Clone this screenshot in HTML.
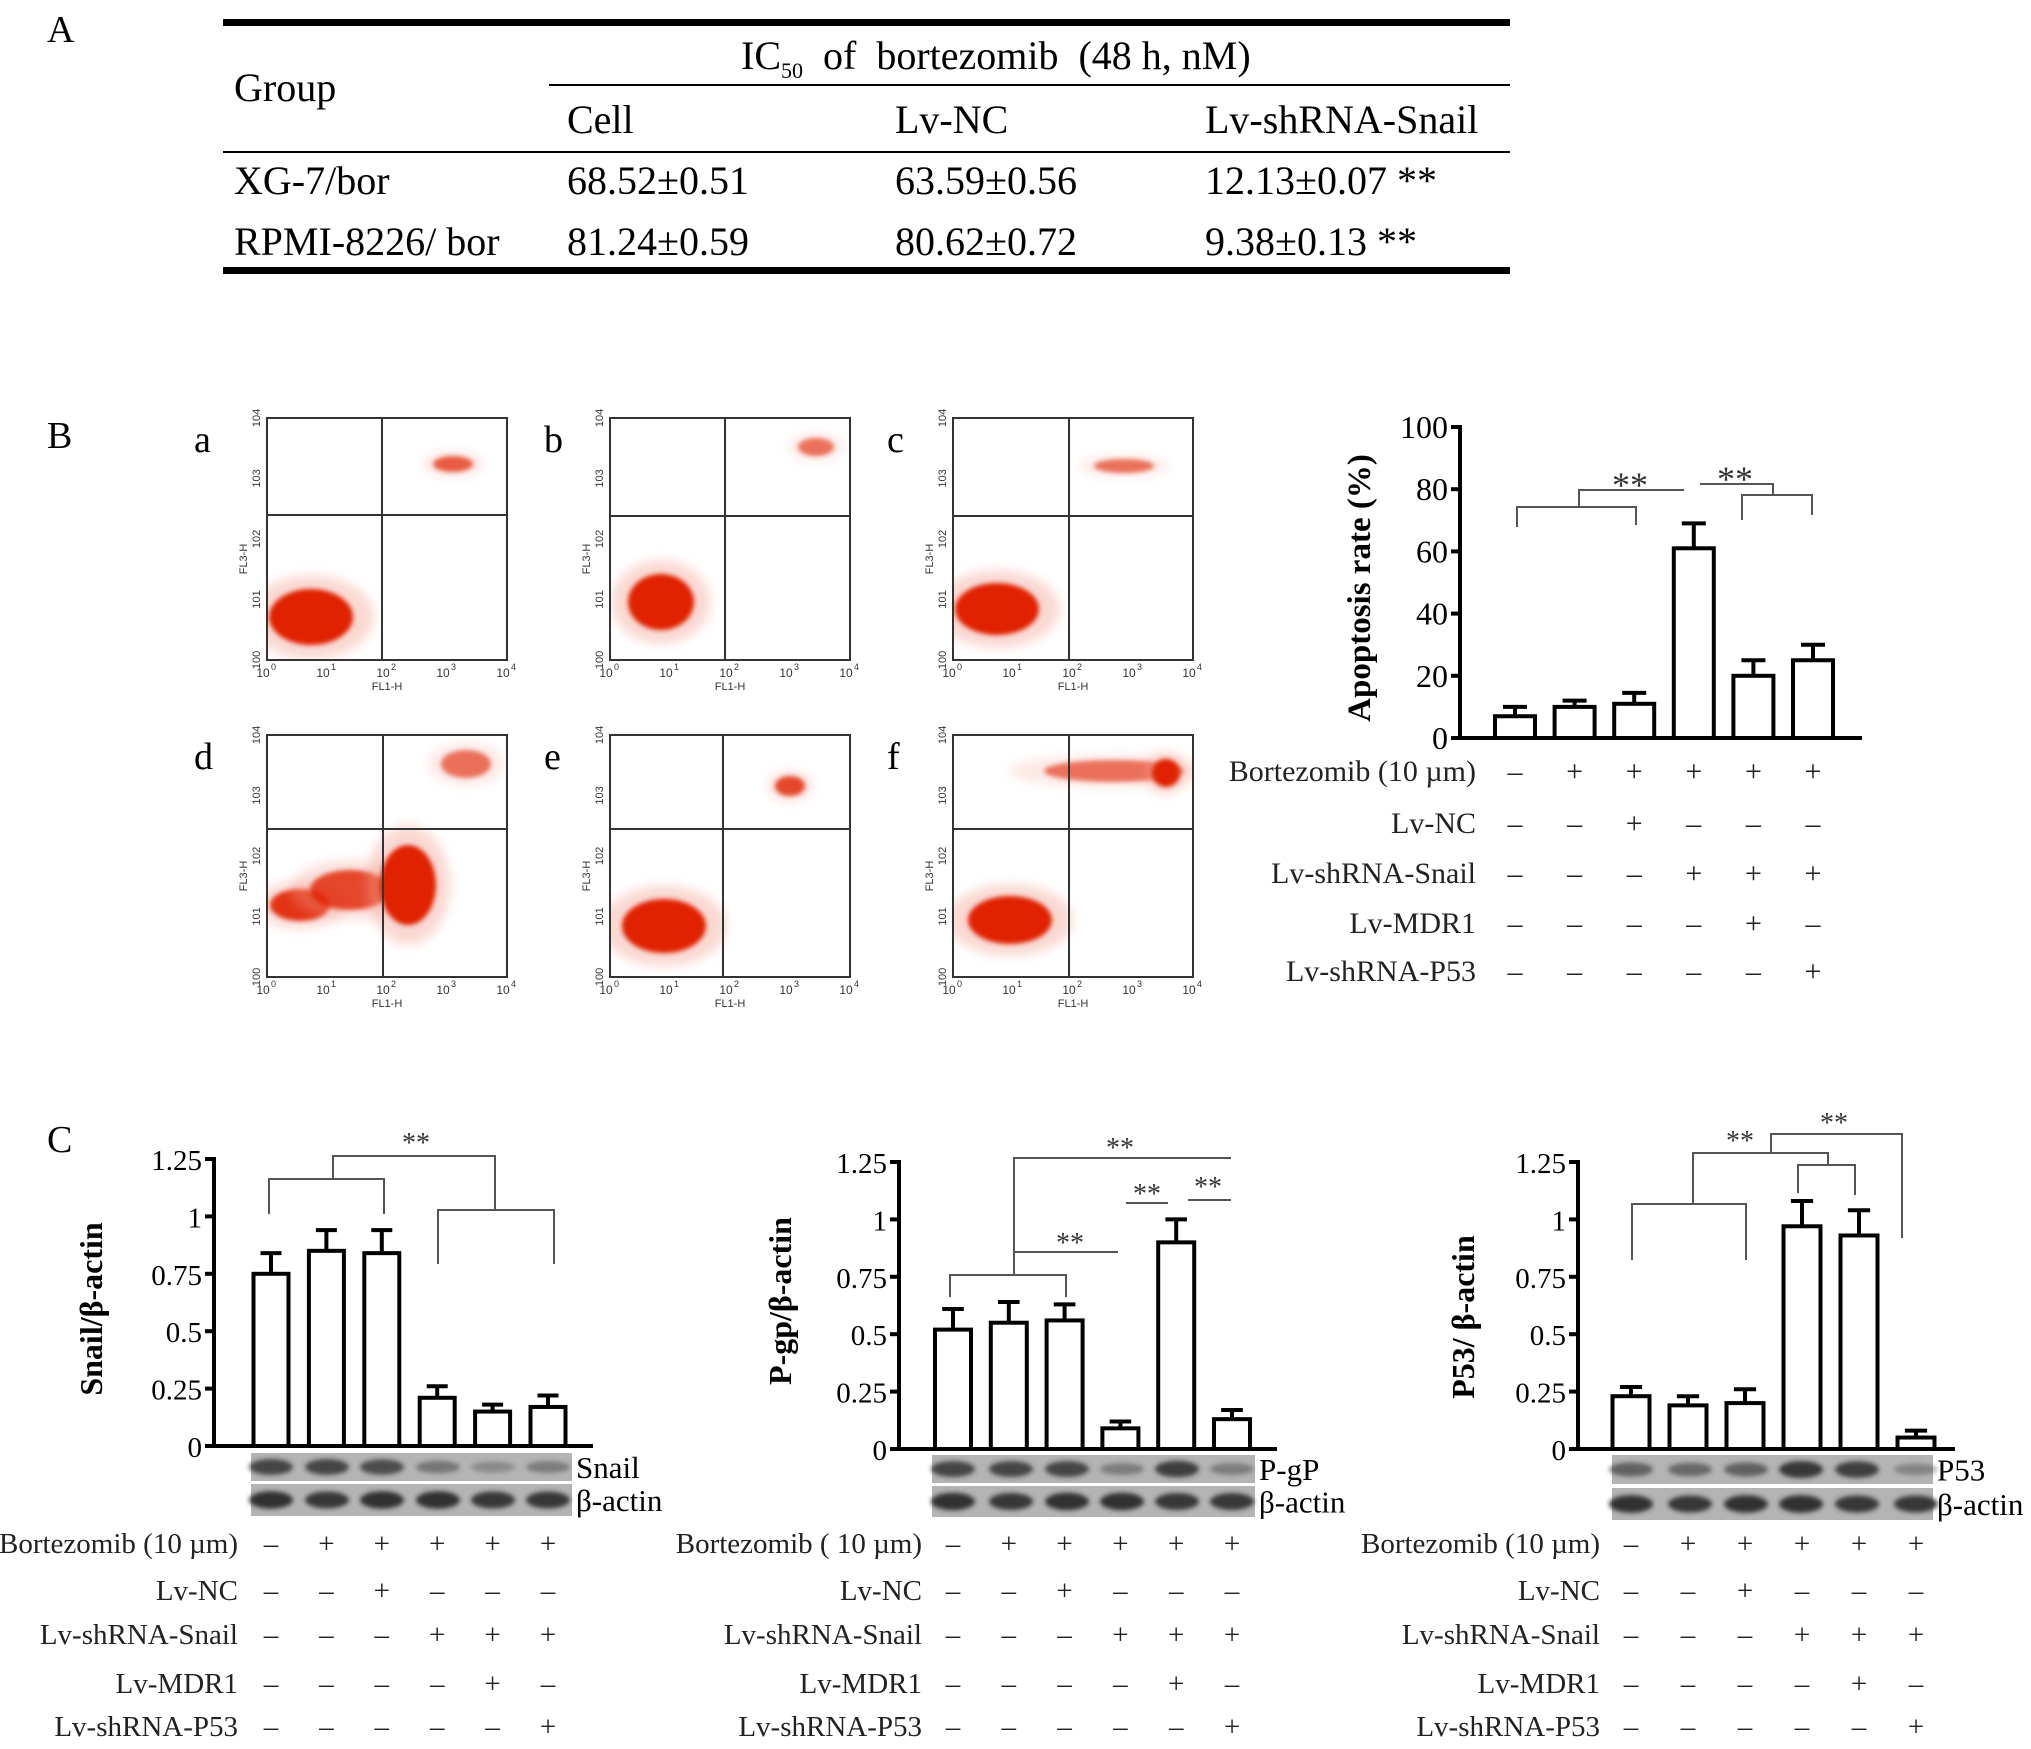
<!DOCTYPE html>
<html><head><meta charset="utf-8">
<style>
html,body{margin:0;padding:0;background:#fff;}
svg{display:block;font-family:"Liberation Serif",serif;}
</style></head>
<body>
<svg id="fig" width="2031" height="1749" viewBox="0 0 2031 1749" xmlns="http://www.w3.org/2000/svg">
<defs>
<filter id="blur4" x="-50%" y="-50%" width="200%" height="200%"><feGaussianBlur stdDeviation="5"/></filter>
<filter id="blur2" x="-50%" y="-50%" width="200%" height="200%"><feGaussianBlur stdDeviation="2.5"/></filter>
</defs>
<g>
<text x="47" y="42" font-size="38">A</text>
<rect x="223" y="19" width="1287" height="7" fill="#000"/>
<text x="741" y="69" font-size="40">IC<tspan font-size="22" dy="9">50</tspan><tspan dy="-9" xml:space="preserve">  of  bortezomib  (48 h, nM)</tspan></text>
<rect x="549" y="84" width="961" height="2" fill="#000"/>
<text x="234" y="101" font-size="40">Group</text>
<text x="567" y="133" font-size="40">Cell</text>
<text x="895" y="133" font-size="40">Lv-NC</text>
<text x="1205" y="133" font-size="40">Lv-shRNA-Snail</text>
<rect x="223" y="151" width="1287" height="2" fill="#000"/>
<text x="234" y="194" font-size="40">XG-7/bor</text>
<text x="567" y="194" font-size="40">68.52±0.51</text>
<text x="895" y="194" font-size="40">63.59±0.56</text>
<text x="1205" y="194" font-size="40">12.13±0.07 **</text>
<text x="234" y="255" font-size="40">RPMI-8226/ bor</text>
<text x="567" y="255" font-size="40">81.24±0.59</text>
<text x="895" y="255" font-size="40">80.62±0.72</text>
<text x="1205" y="255" font-size="40">9.38±0.13 **</text>
<rect x="223" y="267" width="1287" height="7" fill="#000"/>
</g>
<text x="47" y="448" font-size="38">B</text>
<text x="47" y="1152" font-size="38">C</text>
</svg>
<script>
// ---------- data ----------
const conditionNames = ["Bortezomib (10 µm)", "Lv-NC", "Lv-shRNA-Snail", "Lv-MDR1", "Lv-shRNA-P53"];
const condBortezomib = ["-", "+", "+", "+", "+", "+"];
const condLvNC = ["-", "-", "+", "-", "-", "-"];
const condSnail = ["-", "-", "-", "+", "+", "+"];
const condMDR1 = ["-", "-", "-", "-", "+", "-"];
const condP53 = ["-", "-", "-", "-", "-", "+"];
const apopValues = [7, 10, 11, 61, 20, 25];
const apopErrTop = [10, 12, 14.5, 69, 25, 30];
const apopTicks = [0, 20, 40, 60, 80, 100];
const apopTickLabels = ["0", "20", "40", "60", "80", "100"];
const snailValues = [0.75, 0.85, 0.84, 0.21, 0.15, 0.17];
const snailErrTop = [0.84, 0.94, 0.94, 0.26, 0.18, 0.22];
const pgpValues = [0.52, 0.55, 0.56, 0.09, 0.90, 0.13];
const pgpErrTop = [0.61, 0.64, 0.63, 0.12, 1.00, 0.17];
const p53Values = [0.23, 0.19, 0.20, 0.97, 0.93, 0.05];
const p53ErrTop = [0.27, 0.23, 0.26, 1.08, 1.04, 0.08];
const cTicks = [0, 0.25, 0.5, 0.75, 1, 1.25];
const cTickLabels = ["0", "0.25", "0.5", "0.75", "1", "1.25"];
const snailBand = [0.8, 0.8, 0.75, 0.45, 0.3, 0.4];
const pgpBand = [0.8, 0.8, 0.8, 0.4, 0.85, 0.4];
const p53Band = [0.6, 0.55, 0.6, 0.9, 0.85, 0.35];
const actinBand = [0.95, 0.9, 0.95, 0.95, 0.9, 0.9];

const NS = "http://www.w3.org/2000/svg";
const svg = document.getElementById("fig");
function mk(tag, attrs, parent) {
  const e = document.createElementNS(NS, tag);
  for (const k in attrs) e.setAttribute(k, attrs[k]);
  (parent || svg).appendChild(e);
  return e;
}
function txt(s, attrs, parent) { const t = mk("text", attrs, parent); t.textContent = s; return t; }

function barChart(o, vals, errs, ticks, tickLabels) {
  const g = mk("g", {});
  
  
  const y = v => o.y0 - v / o.vmax * (o.y0 - o.y1);
  const xc = i => o.x0 + i * o.step;
  ticks.forEach((t, i) => {
    const tk = mk("line", { x1: o.ax - 9, x2: o.ax, y1: y(t), y2: y(t), stroke: "#000", "stroke-width": 4 }, g);
    
    
    const tl = txt(tickLabels[i], { x: o.ax - 12, y: y(t) + 11, "font-size": o.tfs, "text-anchor": "end" }, g);
    
    
  });
  const ya = mk("line", { x1: o.ax, x2: o.ax, y1: y(ticks[ticks.length - 1]) - 2, y2: o.y0 + 2, stroke: "#000", "stroke-width": 4 }, g);
  
  
  vals.forEach((v, i) => {
    const c = xc(i);
    const eb = mk("line", { x1: c, x2: c, y1: y(v), y2: y(errs[i]), stroke: "#000", "stroke-width": 4 }, g);
    
    
    const cap = mk("line", { x1: c - o.bw * 0.3, x2: c + o.bw * 0.3, y1: y(errs[i]), y2: y(errs[i]), stroke: "#000", "stroke-width": 4 }, g);
    
    
    const b = mk("rect", { x: c - o.bw / 2, y: y(v), width: o.bw, height: o.y0 - y(v), fill: "#fff", stroke: "#000", "stroke-width": 4 }, g);
    
    
  });
  const xa = mk("line", { x1: o.ax - 2, x2: o.xend, y1: o.y0, y2: o.y0, stroke: "#000", "stroke-width": 4 }, g);
  
  
  const tt = txt(o.title, { x: 0, y: 0, "font-size": o.tifs, "font-weight": "bold", "text-anchor": "middle", transform: `translate(${o.tx},${o.ty}) rotate(-90)` }, g);
  
  
  const rows = [condBortezomib, condLvNC, condSnail, condMDR1, condP53];
  rows.forEach((r, ri) => {
    const ry = o.rows[ri];
    const lab = txt(o.rowNames[ri], { x: o.labRight, y: ry + 10, "font-size": o.rfs, "text-anchor": "end", fill: "#222" }, g);
    
    
    r.forEach((s, i) => {
      const m = txt(s === "+" ? "+" : "–", { x: xc(i), y: ry + 10, "font-size": o.rfs, "text-anchor": "middle", fill: "#222" }, g);
      
      
    });
  });
  return { g, y, xc };
}
function bracket(g, pts, name) {
  const p = mk("polyline", { points: pts.map(q => q.join(",")).join(" "), fill: "none", stroke: "#555", "stroke-width": 2 }, g);
  
  
}
function stars(g, x, y, fs) {
  const s = txt("**", { x: x, y: y, "font-size": fs || 30, "text-anchor": "middle", fill: "#333" }, g);
  
  
}
function blot(g, x0, x1, yA, hA, yB, hB, centers, bandA, label) {
  [[yA, hA, bandA, label], [yB, hB, actinBand, "β-actin"]].forEach(([yy, hh, bands, lb]) => {
    const r = mk("rect", { x: x0, y: yy, width: x1 - x0, height: hh, fill: "#b4b4b4" }, g);
    
    
    bands.forEach((a, i) => {
      const e = mk("ellipse", { cx: centers[i], cy: yy + hh / 2, rx: 22, ry: 4 + a * 5, fill: "#2a2a2a", opacity: a, filter: "url(#blur2)" }, g);
      
      
    });
    const l = txt(lb, { x: x1 + 4, y: yy + hh / 2 + 11, "font-size": 31 }, g);
    
    
  });
}

// ---------- B: apoptosis chart ----------
const ap = barChart({ name: "apoptosis-chart", ax: 1460, y0: 738, y1: 427, vmax: 100, xend: 1862, x0: 1515, step: 59.6, bw: 40,
  tfs: 32, tifs: 33, title: "Apoptosis rate (%)", tx: 1370, ty: 588,
  rows: [771, 823, 873, 923, 971], rowNames: conditionNames, labRight: 1476, rfs: 30 }, apopValues, apopErrTop, apopTicks, apopTickLabels);
bracket(ap.g, [[1517, 527], [1517, 507], [1636, 507], [1636, 525]], "bracket");
bracket(ap.g, [[1579, 507], [1579, 490], [1684, 490]], "bracket");
bracket(ap.g, [[1700, 484], [1773, 484], [1773, 495]], "bracket");
bracket(ap.g, [[1742, 520], [1742, 495], [1812, 495], [1812, 515]], "bracket");
stars(ap.g, 1630, 497, 36); stars(ap.g, 1735, 491, 36);

// ---------- C charts ----------
const sn = barChart({ name: "snail-chart", ax: 214, y0: 1446, y1: 1159, vmax: 1.25, xend: 593, x0: 271, step: 55.4, bw: 35,
  tfs: 29, tifs: 32, title: "Snail/β-actin", tx: 102, ty: 1309,
  rows: [1543, 1590, 1634, 1683, 1726], rowNames: conditionNames, labRight: 238, rfs: 29 }, snailValues, snailErrTop, cTicks, cTickLabels);
bracket(sn.g, [[269, 1214], [269, 1179], [384, 1179], [384, 1214]], "bracket");
bracket(sn.g, [[333, 1179], [333, 1156], [495, 1156], [495, 1210]], "bracket");
bracket(sn.g, [[438, 1264], [438, 1210], [554, 1210], [554, 1264]], "bracket");
stars(sn.g, 416, 1152, 28);
blot(sn.g, 251, 572, 1453, 28, 1484, 32, [271, 327, 382, 438, 493, 548], snailBand, "Snail");

const pg = barChart({ name: "pgp-chart", ax: 899, y0: 1449, y1: 1162, vmax: 1.25, xend: 1277, x0: 953, step: 55.8, bw: 36,
  tfs: 29, tifs: 32, title: "P-gp/β-actin", tx: 791, ty: 1301,
  rows: [1543, 1590, 1634, 1683, 1726], rowNames: ["Bortezomib ( 10 µm)", "Lv-NC", "Lv-shRNA-Snail", "Lv-MDR1", "Lv-shRNA-P53"], labRight: 922, rfs: 29 }, pgpValues, pgpErrTop, cTicks, cTickLabels);
bracket(pg.g, [[950, 1297], [950, 1275], [1066, 1275], [1066, 1297]], "bracket");
bracket(pg.g, [[1014, 1275], [1014, 1158], [1231, 1158]], "bracket");
bracket(pg.g, [[1014, 1252], [1118, 1252]], "bracket");
bracket(pg.g, [[1126, 1203], [1168, 1203]], "bracket");
bracket(pg.g, [[1188, 1200], [1231, 1200]], "bracket");
stars(pg.g, 1120, 1157, 28); stars(pg.g, 1070, 1252, 28); stars(pg.g, 1147, 1203, 28); stars(pg.g, 1208, 1196, 28);
blot(pg.g, 932, 1255, 1455, 28, 1486, 31, [953, 1011, 1067, 1122, 1177, 1232], pgpBand, "P-gP");

const p5 = barChart({ name: "p53-chart", ax: 1578, y0: 1449, y1: 1162, vmax: 1.25, xend: 1955, x0: 1631, step: 57, bw: 37,
  tfs: 29, tifs: 32, title: "P53/ β-actin", tx: 1474, ty: 1317,
  rows: [1543, 1590, 1634, 1683, 1726], rowNames: conditionNames, labRight: 1600, rfs: 29 }, p53Values, p53ErrTop, cTicks, cTickLabels);
bracket(p5.g, [[1632, 1260], [1632, 1204], [1746, 1204], [1746, 1260]], "bracket");
bracket(p5.g, [[1693, 1204], [1693, 1153], [1828, 1153], [1828, 1165]], "bracket");
bracket(p5.g, [[1798, 1193], [1798, 1165], [1855, 1165], [1855, 1195]], "bracket");
bracket(p5.g, [[1771, 1153], [1771, 1134], [1902, 1134], [1902, 1238]], "bracket");
stars(p5.g, 1740, 1150, 28); stars(p5.g, 1834, 1132, 28);
blot(p5.g, 1612, 1933, 1455, 29, 1488, 32, [1631, 1690, 1746, 1801, 1857, 1916], p53Band, "P53");

// ---------- B: flow cytometry panels ----------
const panels = [
  { n: "a", x: 267, y: 418, qx: 382, qy: 515, blobs: [[311, 617, 42, 28, 1], [453, 464, 20, 8, 0.7]] },
  { n: "b", x: 610, y: 418, qx: 725, qy: 516, blobs: [[661, 602, 33, 28, 1], [816, 447, 18, 9, 0.6]] },
  { n: "c", x: 953, y: 418, qx: 1069, qy: 516, blobs: [[997, 609, 42, 26, 1], [1124, 466, 30, 7, 0.6]] },
  { n: "d", x: 267, y: 735, qx: 383, qy: 829, blobs: [[300, 905, 30, 16, 0.9], [350, 890, 40, 20, 0.8], [408, 885, 28, 40, 1], [466, 764, 25, 14, 0.6]] },
  { n: "e", x: 610, y: 735, qx: 723, qy: 829, blobs: [[664, 926, 42, 27, 1], [790, 786, 15, 10, 0.8]] },
  { n: "f", x: 953, y: 735, qx: 1069, qy: 829, blobs: [[1010, 920, 42, 24, 1], [1114, 771, 70, 11, 0.6], [1166, 773, 14, 14, 1]] }
];
panels.forEach(p => {
  const g = mk("g", {});
  
  
  const W = 240, H = 242;
  const clip = mk("clipPath", { id: "clip-" + p.n }, g);
  mk("rect", { x: p.x, y: p.y, width: W, height: H }, clip);
  const cg = mk("g", { "clip-path": "url(#clip-" + p.n + ")" }, g);
  p.blobs.forEach(b => {
    const h = mk("ellipse", { cx: b[0], cy: b[1], rx: b[2] * 1.5, ry: b[3] * 1.5, fill: "#f2a090", opacity: 0.4 * b[4], filter: "url(#blur4)" }, cg);
    
    
    const c = mk("ellipse", { cx: b[0], cy: b[1], rx: b[2], ry: b[3], fill: "#e02000", opacity: b[4], filter: "url(#blur2)" }, cg);
    
    
  });
  const r = mk("rect", { x: p.x, y: p.y, width: W, height: H, fill: "none", stroke: "#333", "stroke-width": 2 }, g);
  
  
  const v = mk("line", { x1: p.qx, x2: p.qx, y1: p.y, y2: p.y + H, stroke: "#333", "stroke-width": 2 }, g);
  
  
  const hz = mk("line", { x1: p.x, x2: p.x + W, y1: p.qy, y2: p.qy, stroke: "#333", "stroke-width": 2 }, g);
  
  
  for (let k = 0; k <= 4; k++) {
    const tx = txt("10", { x: p.x + k * W / 4 - 4, y: p.y + H + 17, "font-size": 12, "font-family": "Liberation Sans, sans-serif", "text-anchor": "middle", fill: "#333" }, g);
    
    
    const sx = txt(String(k), { x: p.x + k * W / 4 + 4, y: p.y + H + 10, "font-size": 9, "font-family": "Liberation Sans, sans-serif", fill: "#333" }, g);
    
    
    const ty = txt("10" + k, { x: 0, y: 0, "font-size": 11, "font-family": "Liberation Sans, sans-serif", "text-anchor": "middle", fill: "#333", transform: `translate(${p.x - 7},${p.y + H - k * H / 4}) rotate(-90)` }, g);
    
    
  }
  const xl = txt("FL1-H", { x: p.x + W / 2, y: p.y + H + 30, "font-size": 11, "font-family": "Liberation Sans, sans-serif", "text-anchor": "middle", fill: "#333" }, g);
  
  
  const yl = txt("FL3-H", { x: 0, y: 0, "font-size": 11, "font-family": "Liberation Sans, sans-serif", "text-anchor": "middle", fill: "#333", transform: `translate(${p.x - 20},${p.y + H / 2 + 20}) rotate(-90)` }, g);
  
  
  const lt = txt(p.n, { x: p.x - (p.n === "a" || p.n === "d" ? 73 : 66), y: p.y + 34, "font-size": 38 }, g);
  
  
});
</script>
</body></html>
